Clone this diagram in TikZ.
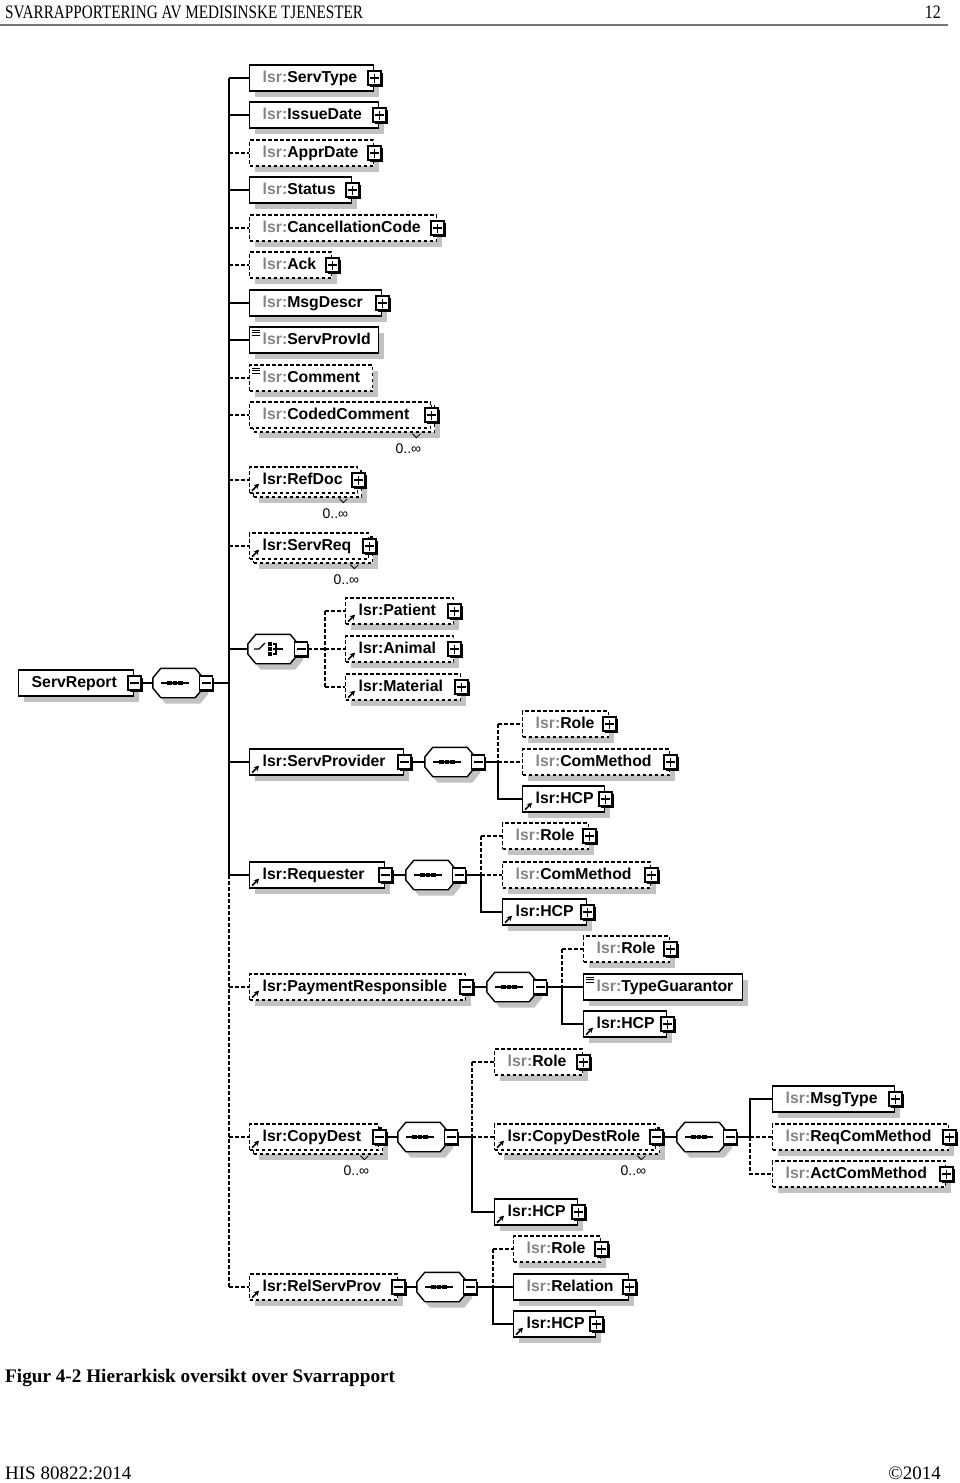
\documentclass[tikz,border=0pt]{standalone}
\usepackage{fontspec}
\setmainfont{Liberation Serif}
\newfontfamily\labfont{Liberation Sans}
\usetikzlibrary{shadows,arrows.meta}
\definecolor{shd}{gray}{0.76}
\definecolor{pfx}{gray}{0.52}
\newcommand\pf{{\color{pfx}lsr:}}
\tikzset{
  elem/.style={draw, fill=white, line width=1.4pt, anchor=west, minimum height=26pt,
    inner sep=0pt, text height=11.5pt, text depth=3.3pt,
    font=\labfont\bfseries\fontsize{15.8}{18}\selectfont},
  one/.style={drop shadow={shadow xshift=5pt, shadow yshift=-6pt, opacity=1, fill=shd}},
  many/.style={drop shadow={shadow xshift=9pt, shadow yshift=-10pt, opacity=1, fill=shd},
    copy shadow={shadow xshift=4pt, shadow yshift=-4pt}},
  dsh/.style={dash pattern=on 3.5pt off 2.5pt},
  cn/.style={line width=1.4pt},
  cd/.style={line width=1.4pt, dash pattern=on 3.5pt off 2.5pt},
  ibox/.style={draw, fill=white, line width=1.2pt, minimum width=13pt, minimum height=14pt, inner sep=0pt,
    drop shadow={shadow xshift=1.6pt, shadow yshift=-1.6pt, opacity=1, fill=black}},
  plusi/.style={ibox, path picture={\draw[line width=1.3pt]
      ([xshift=-4.5pt]path picture bounding box.center) -- ([xshift=4.5pt]path picture bounding box.center)
      ([yshift=-4.5pt]path picture bounding box.center) -- ([yshift=4.5pt]path picture bounding box.center);}},
  minusi/.style={ibox, path picture={\draw[line width=1.3pt]
      ([xshift=-4.5pt]path picture bounding box.center) -- ([xshift=4.5pt]path picture bounding box.center);}},
  comp/.style={minimum width=50pt, minimum height=29pt, inner sep=0pt},
  refarr/.style={line width=1.6pt, -{Stealth[length=5pt,width=5.5pt]}},
  occl/.style={font=\labfont\fontsize{14}{14}\selectfont, inner sep=0pt},
  hdr/.style={inner sep=0pt, font=\fontsize{19}{19}\selectfont},
}
\newcommand\elm[6]{\node[elem,#2,minimum width=#5pt] (#1) at (#3,#4) {\makebox[#5pt][l]{\hspace{13pt}#6}};}
\newcommand\plusic[1]{\node[plusi] (#1-i) at (#1.east) {};}
\newcommand\minic[1]{\node[minusi] (#1-i) at (#1.east) {};}
\newcommand\refar[1]{\draw[refarr] ([shift={(3pt,3pt)}]#1.south west) -- ++(7pt,7pt);}
\newcommand\lnic[1]{\foreach \k in {4,6.5,9}{\draw[line width=0.9pt] ([xshift=3pt,yshift=-\k pt]#1.north west) -- ++(8pt,0pt);}}
\newcommand\occur[1]{\node[occl] (#1-o) at ([xshift=-23pt,yshift=-20pt]#1.south east) {0..∞};
  \draw[line width=0.8pt] ([xshift=-19pt,yshift=-5pt]#1.south east) -- ([xshift=-15pt,yshift=-9pt]#1.south east) -- ([xshift=-11pt,yshift=-5pt]#1.south east);}
\newcommand\octb[1]{\draw[fill=white, line width=1.4pt, one]
  ([xshift=8pt]#1.north west) -- ([xshift=-8pt]#1.north east) -- ([yshift=5pt]#1.east) -- ([yshift=-5pt]#1.east)
  -- ([xshift=-8pt]#1.south east) -- ([xshift=8pt]#1.south west) -- ([yshift=-5pt]#1.west) -- ([yshift=5pt]#1.west) -- cycle;}
\newcommand\octi[1]{\node[minusi] (#1-i) at ([xshift=3pt]#1.east) {};}
\newcommand\seqc[1]{\octb{#1}\draw[line width=1.3pt] ([xshift=-17pt]#1.center) -- ([xshift=11pt]#1.center);
  \foreach \d in {-8.5,-3,2.5}{\fill ([xshift=\d pt]#1.center) ++(-2.2pt,-2.2pt) rectangle ++(4.4pt,4.4pt);}\octi{#1}}
\newcommand\choc[1]{\octb{#1}
  \draw[line width=1.3pt] ([xshift=-19pt]#1.center) -- ([xshift=-14pt]#1.center) -- ([xshift=-8pt,yshift=6pt]#1.center);
  \foreach \dy in {-5,0,5}{\fill ([xshift=-3pt,yshift=\dy pt]#1.center) ++(-1.8pt,-1.8pt) rectangle ++(3.6pt,3.6pt);}
  \draw[line width=1.3pt] ([xshift=0pt,yshift=5pt]#1.center) -- ([xshift=3pt,yshift=5pt]#1.center) -- ([xshift=3pt,yshift=-5pt]#1.center) -- ([xshift=0pt,yshift=-5pt]#1.center)
     ([xshift=0pt]#1.center) -- ([xshift=10pt]#1.center);
  \octi{#1}}
\begin{document}
\begin{tikzpicture}[x=1pt,y=-1pt]
\fill[white] (0,0) rectangle (960,1483);
\useasboundingbox (0,0) rectangle (960,1483);

% header and footer
\node[hdr, anchor=base west] (head) at (5,18) {\scalebox{0.8}[1]{SVARRAPPORTERING AV MEDISINSKE TJENESTER}};
\node[hdr, anchor=base east] (page) at (941,18) {\scalebox{0.84}[1]{12}};
\draw[line width=2pt, black!55] (0,24.5) -- (948,24.5);
\node[inner sep=0pt, anchor=base west, font=\bfseries\fontsize{19.2}{20}\selectfont] (cap) at (5,1382) {Figur 4-2 Hierarkisk oversikt over Svarrapport};
\node[hdr, anchor=base west] (foot1) at (5,1479) {HIS 80822:2014};
\node[hdr, anchor=base east] (foot2) at (941,1479) {©2014};

% root
\elm{ServReport}{one}{18}{683}{115}{ServReport}\minic{ServReport}
\node[comp] (seq0) at (178,683) {};\seqc{seq0}
\coordinate (spine) at (229,683);

% top-level children
\elm{ServType}{one}{249}{78}{124}{\pf ServType}\plusic{ServType}
\elm{IssueDate}{one}{249}{115}{129}{\pf IssueDate}\plusic{IssueDate}
\elm{ApprDate}{one,dsh}{249}{153}{124}{\pf ApprDate}\plusic{ApprDate}
\elm{Status}{one}{249}{190}{102}{\pf Status}\plusic{Status}
\elm{CancellationCode}{one,dsh}{249}{228}{187}{\pf CancellationCode}\plusic{CancellationCode}
\elm{Ack}{one,dsh}{249}{265}{82}{\pf Ack}\plusic{Ack}
\elm{MsgDescr}{one}{249}{303}{132}{\pf MsgDescr}\plusic{MsgDescr}
\elm{ServProvId}{one}{249}{340}{129}{\pf ServProvId}\lnic{ServProvId}
\elm{Comment}{one,dsh}{249}{378}{123}{\pf Comment}\lnic{Comment}
\elm{CodedComment}{many,dsh}{249}{415}{181}{\pf CodedComment}\plusic{CodedComment}\occur{CodedComment}
\elm{RefDoc}{many,dsh}{249}{480}{108}{lsr:RefDoc}\plusic{RefDoc}\refar{RefDoc}\occur{RefDoc}
\elm{ServReq}{many,dsh}{249}{546}{119}{lsr:ServReq}\plusic{ServReq}\refar{ServReq}\occur{ServReq}

% choice
\node[comp] (ch) at (273,649) {};\choc{ch}
\coordinate (bCH) at (325,649);
\elm{Patient}{one,dsh}{345}{611}{108}{lsr:Patient}\plusic{Patient}\refar{Patient}
\elm{Animal}{one,dsh}{345}{649}{108}{lsr:Animal}\plusic{Animal}\refar{Animal}
\elm{Material}{one,dsh}{345}{687}{115}{lsr:Material}\plusic{Material}\refar{Material}

% ServProvider
\elm{ServProvider}{one}{249}{762}{154}{lsr:ServProvider}\minic{ServProvider}\refar{ServProvider}
\node[comp] (seqSP) at (450,762) {};\seqc{seqSP}
\coordinate (bSP) at (498,762);
\elm{SProle}{one,dsh}{522}{724}{86}{\pf Role}\plusic{SProle}
\elm{SPcom}{one,dsh}{522}{762}{147}{\pf ComMethod}\plusic{SPcom}
\elm{SPhcp}{one}{522}{799}{82}{lsr:HCP}\plusic{SPhcp}\refar{SPhcp}

% Requester
\elm{Requester}{one}{249}{875}{135}{lsr:Requester}\minic{Requester}\refar{Requester}
\node[comp] (seqRQ) at (431,875) {};\seqc{seqRQ}
\coordinate (bRQ) at (481,875);
\elm{RQrole}{one,dsh}{502}{836}{86}{\pf Role}\plusic{RQrole}
\elm{RQcom}{one,dsh}{502}{875}{148}{\pf ComMethod}\plusic{RQcom}
\elm{RQhcp}{one}{502}{912}{84}{lsr:HCP}\plusic{RQhcp}\refar{RQhcp}

% PaymentResponsible
\elm{PayResp}{one,dsh}{249}{987}{216}{lsr:PaymentResponsible}\minic{PayResp}\refar{PayResp}
\node[comp] (seqPR) at (512,987) {};\seqc{seqPR}
\coordinate (bPR) at (562,987);
\elm{PRrole}{one,dsh}{583}{949}{86}{\pf Role}\plusic{PRrole}
\elm{PRtype}{one}{583}{987}{159}{\pf TypeGuarantor}\lnic{PRtype}
\elm{PRhcp}{one}{583}{1024}{83}{lsr:HCP}\plusic{PRhcp}\refar{PRhcp}

% CopyDest
\elm{CopyDest}{many,dsh}{249}{1137}{129}{lsr:CopyDest}\minic{CopyDest}\refar{CopyDest}\occur{CopyDest}
\node[comp] (seqCD) at (423,1137) {};\seqc{seqCD}
\coordinate (bCD) at (472,1137);
\elm{CDrole}{one,dsh}{494}{1062}{88}{\pf Role}\plusic{CDrole}
\elm{CDR}{many,dsh}{494}{1137}{161}{lsr:CopyDestRole}\minic{CDR}\refar{CDR}\occur{CDR}
\elm{CDhcp}{one}{494}{1212}{83}{lsr:HCP}\plusic{CDhcp}\refar{CDhcp}
\node[comp] (seqCDR) at (702,1137) {};\seqc{seqCDR}
\coordinate (bCDR) at (750,1137);
\elm{MsgType}{one}{772}{1099}{122}{\pf MsgType}\plusic{MsgType}
\elm{ReqCom}{one,dsh}{772}{1137}{176}{\pf ReqComMethod}\plusic{ReqCom}
\elm{ActCom}{one,dsh}{772}{1174}{173}{\pf ActComMethod}\plusic{ActCom}

% RelServProv
\elm{RelServProv}{one,dsh}{249}{1287}{148}{lsr:RelServProv}\minic{RelServProv}\refar{RelServProv}
\node[comp] (seqRS) at (442,1287) {};\seqc{seqRS}
\coordinate (bRS) at (493,1287);
\elm{RSrole}{one,dsh}{513}{1249}{87}{\pf Role}\plusic{RSrole}
\elm{RSrel}{one}{513}{1287}{115}{\pf Relation}\plusic{RSrel}
\elm{RShcp}{one}{513}{1324}{82}{lsr:HCP}\plusic{RShcp}\refar{RShcp}

% ---------- connectors ----------
\draw[cn] (ServReport-i.east) -- (seq0.west);
\draw[cn] (seq0-i.east) -- (spine);
\draw[cn] (ServType.west -| spine) -- (Requester.west -| spine);
\draw[cd] (Requester.west -| spine) -- (RelServProv.west -| spine);
\foreach \n in {ServType,IssueDate,Status,MsgDescr,ServProvId,ch,ServProvider,Requester}
  {\draw[cn] (\n.west -| spine) -- (\n.west);}
\foreach \n in {ApprDate,CancellationCode,Ack,Comment,CodedComment,RefDoc,ServReq,PayResp,CopyDest,RelServProv}
  {\draw[cd] (\n.west -| spine) -- (\n.west);}

% choice branch
\draw[cd] (ch-i.east) -- (bCH);
\draw[cd] (Patient.west -| bCH) -- (Material.west -| bCH);
\foreach \n in {Patient,Animal,Material}{\draw[cd] (\n.west -| bCH) -- (\n.west);}

% ServProvider branch
\draw[cn] (ServProvider-i.east) -- (seqSP.west);
\draw[cn] (seqSP-i.east) -- (bSP);
\draw[cd] (SProle.west -| bSP) -- (bSP);
\draw[cd] (SProle.west -| bSP) -- (SProle.west);
\draw[cd] (bSP) -- (SPcom.west);
\draw[cn] (bSP) -- (SPhcp.west -| bSP) -- (SPhcp.west);

% Requester branch
\draw[cn] (Requester-i.east) -- (seqRQ.west);
\draw[cn] (seqRQ-i.east) -- (bRQ);
\draw[cd] (RQrole.west -| bRQ) -- (bRQ);
\draw[cd] (RQrole.west -| bRQ) -- (RQrole.west);
\draw[cd] (bRQ) -- (RQcom.west);
\draw[cn] (bRQ) -- (RQhcp.west -| bRQ) -- (RQhcp.west);

% PaymentResponsible branch
\draw[cn] (PayResp-i.east) -- (seqPR.west);
\draw[cn] (seqPR-i.east) -- (bPR);
\draw[cd] (PRrole.west -| bPR) -- (bPR);
\draw[cd] (PRrole.west -| bPR) -- (PRrole.west);
\draw[cn] (bPR) -- (PRtype.west);
\draw[cn] (bPR) -- (PRhcp.west -| bPR) -- (PRhcp.west);

% CopyDest branch
\draw[cn] (CopyDest-i.east) -- (seqCD.west);
\draw[cn] (seqCD-i.east) -- (bCD);
\draw[cd] (CDrole.west -| bCD) -- (bCD);
\draw[cd] (CDrole.west -| bCD) -- (CDrole.west);
\draw[cd] (bCD) -- (CDR.west);
\draw[cn] (bCD) -- (CDhcp.west -| bCD) -- (CDhcp.west);

% CopyDestRole branch
\draw[cn] (CDR-i.east) -- (seqCDR.west);
\draw[cn] (seqCDR-i.east) -- (bCDR);
\draw[cn] (bCDR) -- (MsgType.west -| bCDR) -- (MsgType.west);
\draw[cd] (bCDR) -- (ReqCom.west);
\draw[cd] (bCDR) -- (ActCom.west -| bCDR) -- (ActCom.west);

% RelServProv branch
\draw[cn] (RelServProv-i.east) -- (seqRS.west);
\draw[cn] (seqRS-i.east) -- (bRS);
\draw[cd] (RSrole.west -| bRS) -- (bRS);
\draw[cd] (RSrole.west -| bRS) -- (RSrole.west);
\draw[cn] (bRS) -- (RSrel.west);
\draw[cn] (bRS) -- (RShcp.west -| bRS) -- (RShcp.west);
\end{tikzpicture}
\end{document}
